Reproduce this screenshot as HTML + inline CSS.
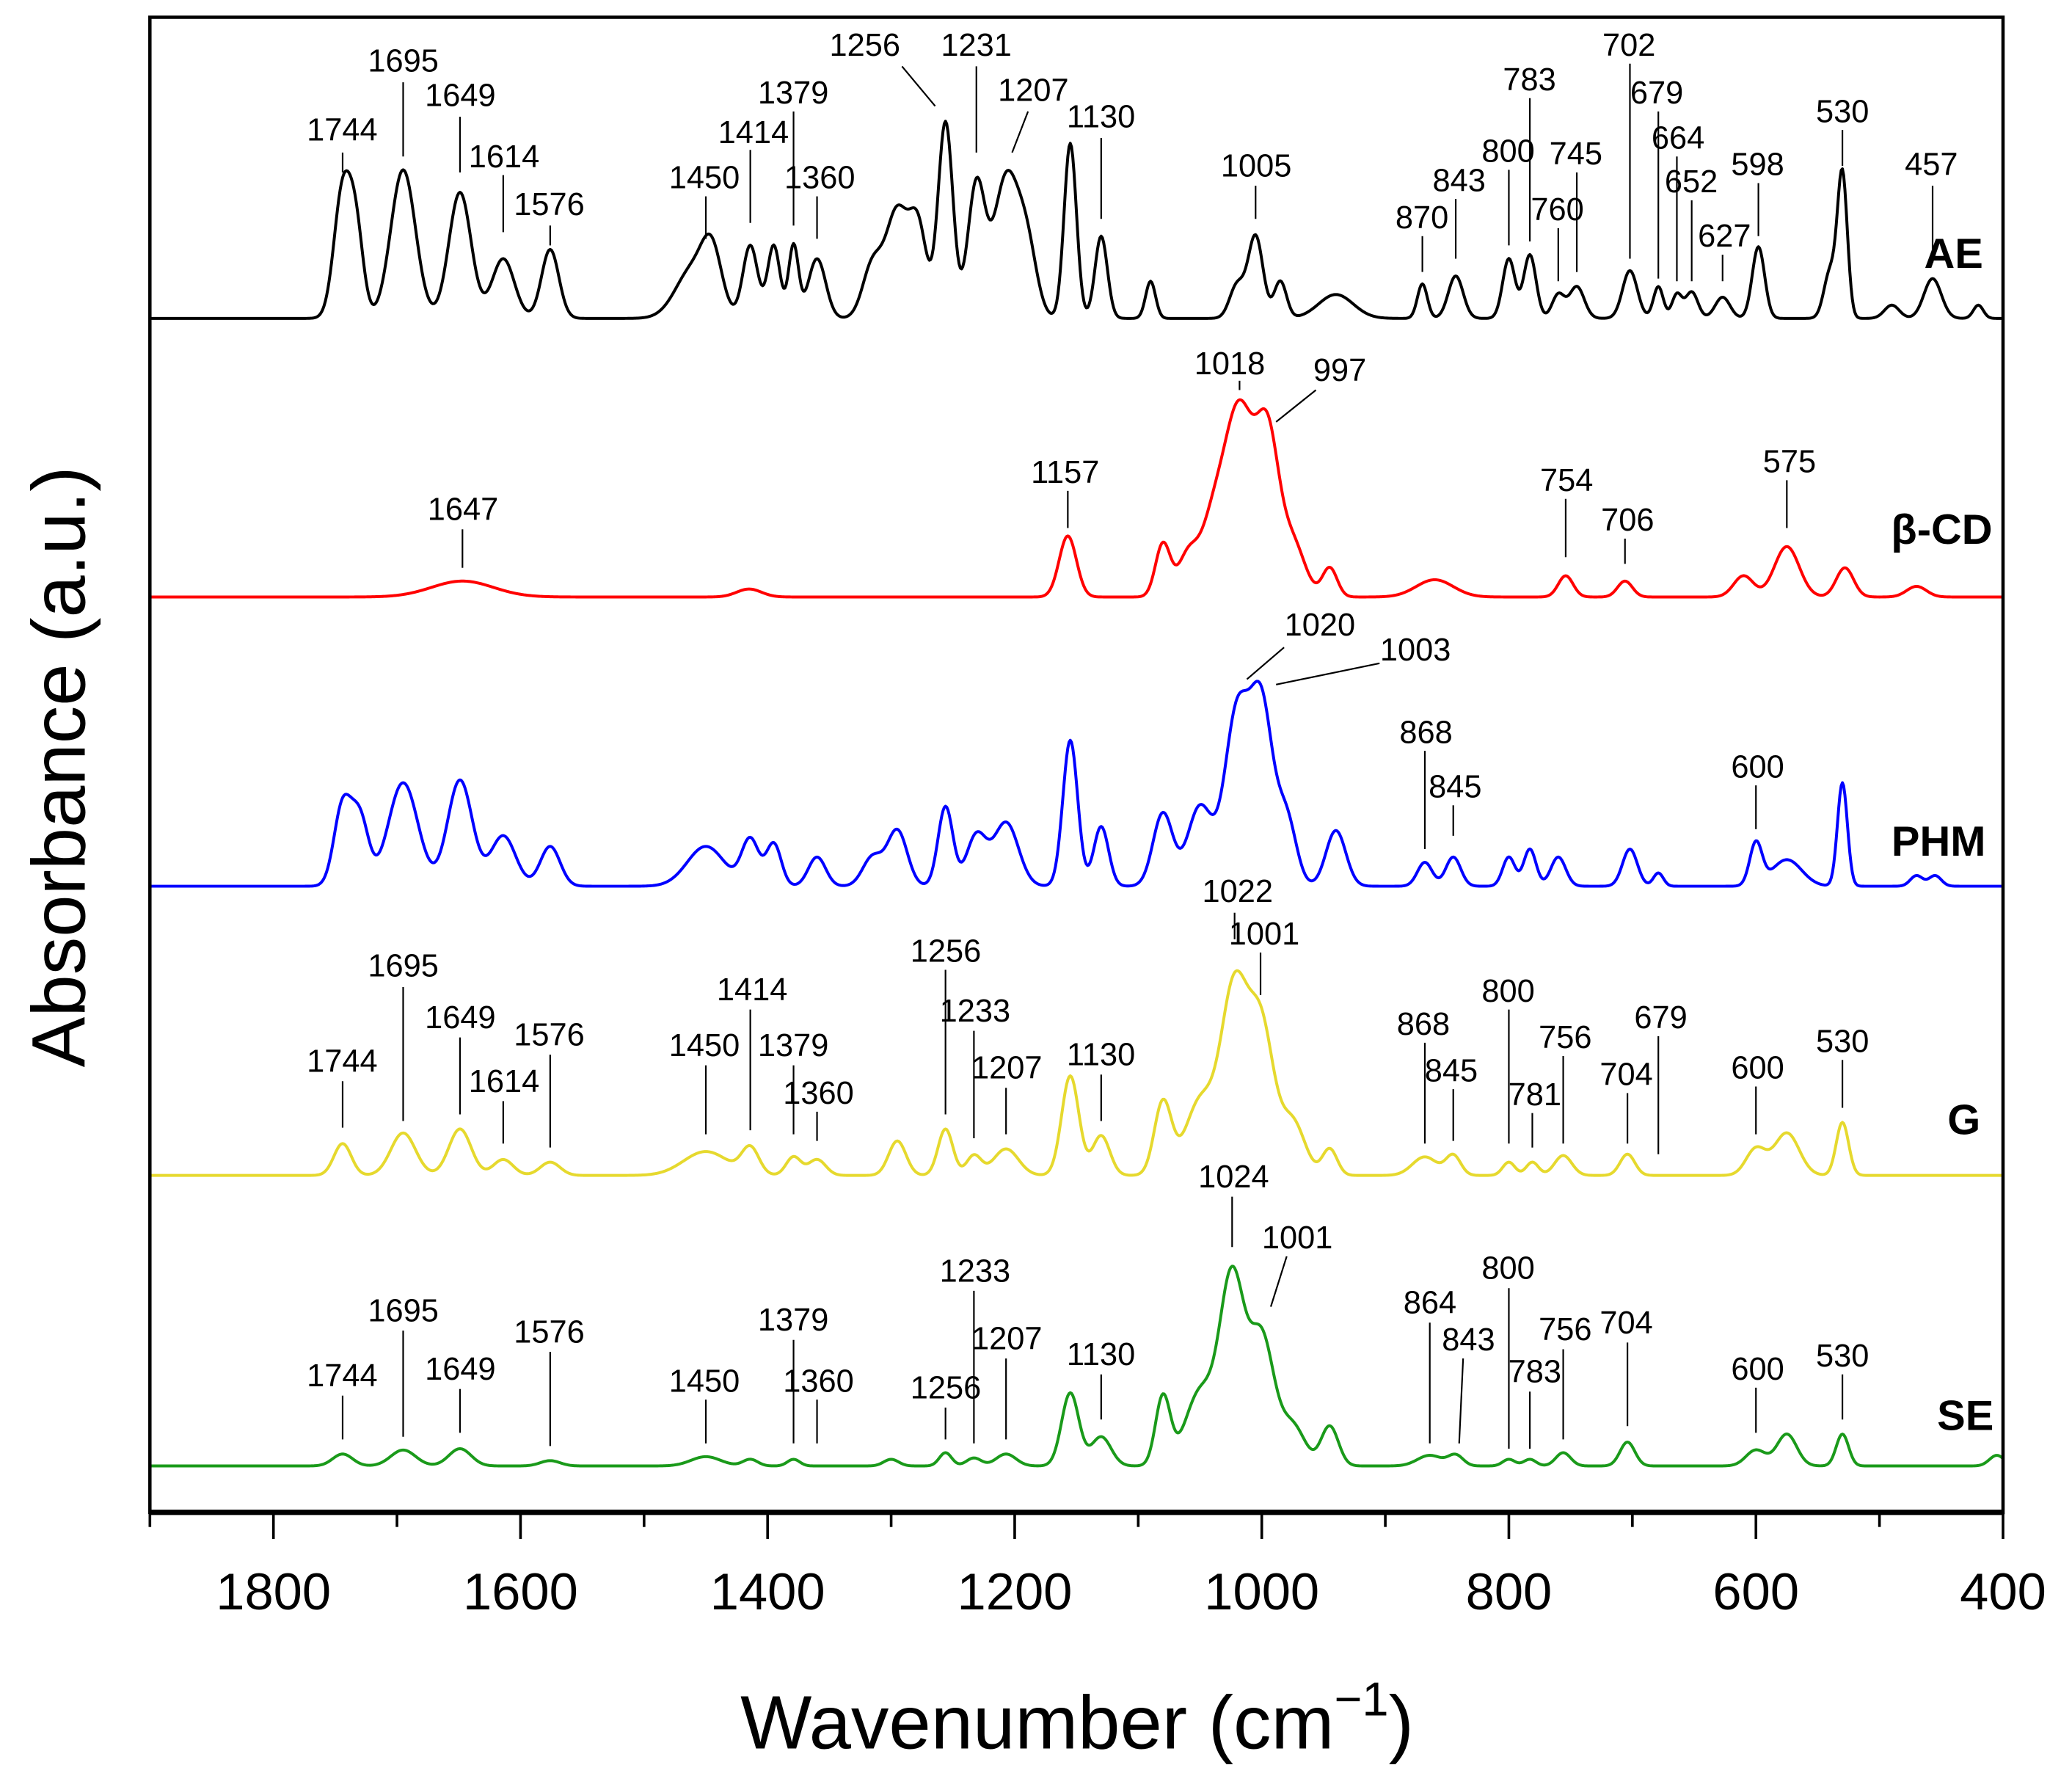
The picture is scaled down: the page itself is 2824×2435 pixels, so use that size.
<!DOCTYPE html>
<html><head><meta charset="utf-8"><style>
html,body{margin:0;padding:0;background:#fff}
svg{display:block}
text{font-family:"Liberation Sans",sans-serif}
</style></head><body>
<svg id="chart" width="2824" height="2435" viewBox="0 0 1562 1347" preserveAspectRatio="none" xmlns="http://www.w3.org/2000/svg">
<g id="plot"></g>
<text x="812" y="1318" font-size="57" text-anchor="middle">Wavenumber (cm<tspan font-size="36" dy="-25">−1</tspan><tspan dy="25">)</tspan></text>
<text transform="translate(64,578) rotate(-90)" font-size="57" text-anchor="middle">Absorbance (a.u.)</text>
</svg>
<script>
const xTicks=[1800,1600,1400,1200,1000,800,600,400];
const xMinor=[1900,1700,1500,1300,1100,900,700,500];
const seriesNames=['AE','β-CD','PHM','G','SE'];
const seriesColors=['#000000','#ff0000','#0000ff','#e6d92e','#1a9a1a'];
const seriesBase=[240,450,668,886,1105];
const peaksAE=[[1744,95,7],[1733,60,6],[1695,112,10],[1649,95,9],[1614,45,9],[1576,52,7],[1460,38,14],[1445,40,8],[1414,55,6],[1395,55,5],[1379,55,4],[1360,45,7],[1315,40,8],[1295,80,9],[1278,65,7],[1256,148,6],[1231,100,7],[1207,105,10],[1190,50,8],[1155,132,5],[1130,62,5],[1090,28,4],[1020,25,6],[1005,62,6],[985,28,5],[940,18,14],[870,26,4],[843,32,6],[800,45,5],[783,48,5],[760,18,5],[745,24,6],[702,36,6],[679,24,4],[664,18,4],[652,20,5],[627,16,6],[598,54,5],[540,35,5],[530,108,4],[490,10,6],[457,30,7],[420,10,4]];
const peaksBCD=[[1647,12,25],[1415,6,10],[1157,46,7],[1080,40,6],[1060,30,8],[1040,50,10],[1018,140,12],[995,110,9],[975,40,10],[945,22,6],[860,13,15],[754,16,6],[706,12,6],[610,16,8],[575,38,10],[528,22,7],[470,8,8]];
const peaksPHM=[[1744,60,7],[1730,50,7],[1695,78,12],[1649,80,10],[1614,38,10],[1576,30,8],[1450,30,15],[1414,35,7],[1395,32,6],[1360,22,7],[1315,22,8],[1295,42,8],[1256,60,6],[1231,38,8],[1207,48,10],[1155,110,6],[1130,45,6],[1080,55,8],[1050,60,10],[1020,130,10],[1000,130,9],[980,50,8],[940,42,8],[868,18,6],[845,22,6],[800,22,5],[783,28,5],[760,22,6],[702,28,6],[679,10,4],[600,32,5],[575,20,12],[530,78,4],[470,8,5],[455,8,5]];
const peaksG=[[1744,24,7],[1695,32,10],[1649,35,9],[1614,12,8],[1576,10,8],[1450,18,18],[1414,20,7],[1379,14,6],[1360,12,7],[1295,26,7],[1256,35,6],[1233,15,6],[1207,20,10],[1155,75,7],[1130,30,7],[1080,55,7],[1050,55,12],[1022,140,11],[1000,105,10],[975,40,10],[945,20,6],[868,14,10],[845,15,6],[800,10,5],[781,10,5],[756,15,7],[704,16,6],[600,20,8],[575,32,10],[530,40,5]];
const peaksSE=[[1744,9,8],[1695,12,10],[1649,13,9],[1576,4,8],[1450,7,12],[1414,5,6],[1379,5,5],[1300,5,6],[1256,10,5],[1233,6,6],[1207,9,8],[1155,55,7],[1130,22,8],[1080,52,6],[1050,55,12],[1024,140,10],[1000,95,10],[975,30,10],[945,30,7],[864,8,10],[843,8,6],[800,5,5],[783,5,5],[756,10,6],[704,18,6],[600,12,8],[575,24,8],[530,24,5],[405,8,6]];
const allPeaks=[peaksAE,peaksBCD,peaksPHM,peaksG,peaksSE];
const seriesLabelPos=[[1495,202],[1502,410],[1497,645],[1493,855],[1503,1078]];
const ann=[
[0,'1744',258,106,115,130],[0,'1695',304,54,62,118],[0,'1649',347,80,88,130],[0,'1614',380,126,132,175],[0,'1576',414,162,170,185],
[0,'1450',531,142,148,180],[0,'1414',568,108,113,168],[0,'1379',598,78,84,170],[0,'1360',618,142,148,180],
[0,'1256',652,42,0,0,680,50,705,80],[0,'1231',736,42,50,115],[0,'1207',779,76,0,0,775,84,763,115],[0,'1130',830,96,104,165],
[0,'1005',947,133,140,165],[0,'870',1072,172,178,205],[0,'843',1100,144,150,195],[0,'800',1137,122,128,185],[0,'783',1153,68,74,182],
[0,'760',1174,166,172,212],[0,'745',1188,124,130,205],[0,'702',1228,42,48,195],[0,'679',1249,78,84,210],[0,'664',1265,112,118,212],
[0,'652',1275,145,151,212],[0,'627',1300,186,192,212],[0,'598',1325,132,138,178],[0,'530',1389,92,98,125],[0,'457',1456,132,140,198],
[1,'1647',349,392,399,428],[1,'1157',803,364,370,398],[1,'1018',927,282,287,294],[1,'997',1010,287,0,0,992,294,962,318],
[1,'754',1181,370,376,420],[1,'706',1227,400,406,425],[1,'575',1349,356,362,398],
[2,'1020',995,479,0,0,968,488,940,512],[2,'1003',1067,498,0,0,1040,500,962,516],[2,'868',1075,560,566,640],[2,'845',1097,601,607,630],[2,'600',1325,586,592,625],
[3,'1744',258,808,815,850],[3,'1695',304,736,744,845],[3,'1649',347,775,782,840],[3,'1614',380,823,830,862],[3,'1576',414,788,795,865],
[3,'1450',531,796,803,855],[3,'1414',567,754,761,852],[3,'1379',598,796,803,855],[3,'1360',617,832,838,860],[3,'1256',713,725,731,840],
[3,'1233',735,770,777,858],[3,'1207',759,813,820,855],[3,'1130',830,803,810,845],[3,'1022',933,680,688,708],[3,'1001',953,712,718,750],
[3,'868',1073,780,786,862],[3,'845',1094,815,821,860],[3,'800',1137,755,761,862],[3,'781',1157,833,839,865],[3,'756',1180,790,796,862],
[3,'704',1226,818,824,862],[3,'679',1252,775,781,870],[3,'600',1325,813,819,855],[3,'530',1389,793,799,835],
[4,'1024',930,895,902,940],[4,'1001',978,941,0,0,970,947,958,985],[4,'1744',258,1045,1052,1085],[4,'1695',304,996,1003,1083],
[4,'1649',347,1040,1047,1080],[4,'1576',414,1012,1019,1090],[4,'1450',531,1049,1055,1088],[4,'1379',598,1003,1010,1088],
[4,'1360',617,1049,1055,1088],[4,'1256',713,1054,1061,1085],[4,'1233',735,966,973,1088],[4,'1207',759,1017,1024,1085],
[4,'1130',830,1029,1036,1070],[4,'864',1078,990,997,1088],[4,'843',1107,1018,0,0,1103,1024,1100,1088],[4,'800',1137,964,971,1092],
[4,'783',1157,1042,1049,1092],[4,'756',1180,1010,1017,1085],[4,'704',1226,1005,1012,1075],[4,'600',1325,1040,1046,1080],[4,'530',1389,1030,1036,1070]
];
const L=113,R=1510,T=13,B=1140;
const xs=w=>L+(1900-w)*(R-L)/1500;
const NS='http://www.w3.org/2000/svg';
const g=document.getElementById('plot');
function mk(tag,attrs){const e=document.createElementNS(NS,tag);for(const k in attrs)e.setAttribute(k,attrs[k]);g.appendChild(e);return e;}
allPeaks.forEach((pk,i)=>{
  let d='';
  for(let w=1900;w>=400;w-=1){
    let v=0;
    for(const p of pk){const z=(w-p[0])/p[2];v+=p[1]*Math.exp(-0.5*z*z);}
    const y=seriesBase[i]-v;
    d+=(w===1900?'M':'L')+xs(w).toFixed(2)+','+y.toFixed(2);
  }
  const path=mk('path',{d:d,fill:'none',stroke:seriesColors[i],'stroke-width':2.2,'stroke-linejoin':'round'});
  
  
  const t=mk('text',{x:seriesLabelPos[i][0],y:seriesLabelPos[i][1],'font-size':32,'font-weight':'bold','text-anchor':'end'});
  t.textContent=seriesNames[i];
  
  
});
ann.forEach(a=>{
  const t=mk('text',{x:a[2],y:a[3],'font-size':24,'text-anchor':'middle'});
  t.textContent=a[1];
  
  
  let ln;
  if(a.length>6) ln=mk('line',{x1:a[6],y1:a[7],x2:a[8],y2:a[9],stroke:'#000','stroke-width':1.2});
  else {const x=xs(+a[1]);ln=mk('line',{x1:x,y1:a[4],x2:x,y2:a[5],stroke:'#000','stroke-width':1.2});}
  
  
});
const fr=mk('rect',{x:L,y:T,width:R-L,height:B-T,fill:'none',stroke:'#000','stroke-width':2.5});


const ax=mk('line',{x1:L-1,y1:B,x2:R+1,y2:B,stroke:'#000','stroke-width':4});


xTicks.forEach(v=>{
  const x=xs(v);
  const tk=mk('line',{x1:x,y1:B,x2:x,y2:B+20,stroke:'#000','stroke-width':2});
  
  
  const tl=mk('text',{x:x,y:1213,'font-size':39,'text-anchor':'middle'});
  tl.textContent=v;
  
  
});
xMinor.forEach(v=>{
  const x=xs(v);
  const tk=mk('line',{x1:x,y1:B,x2:x,y2:B+11,stroke:'#000','stroke-width':2});
  
  
});
</script>
</body></html>
